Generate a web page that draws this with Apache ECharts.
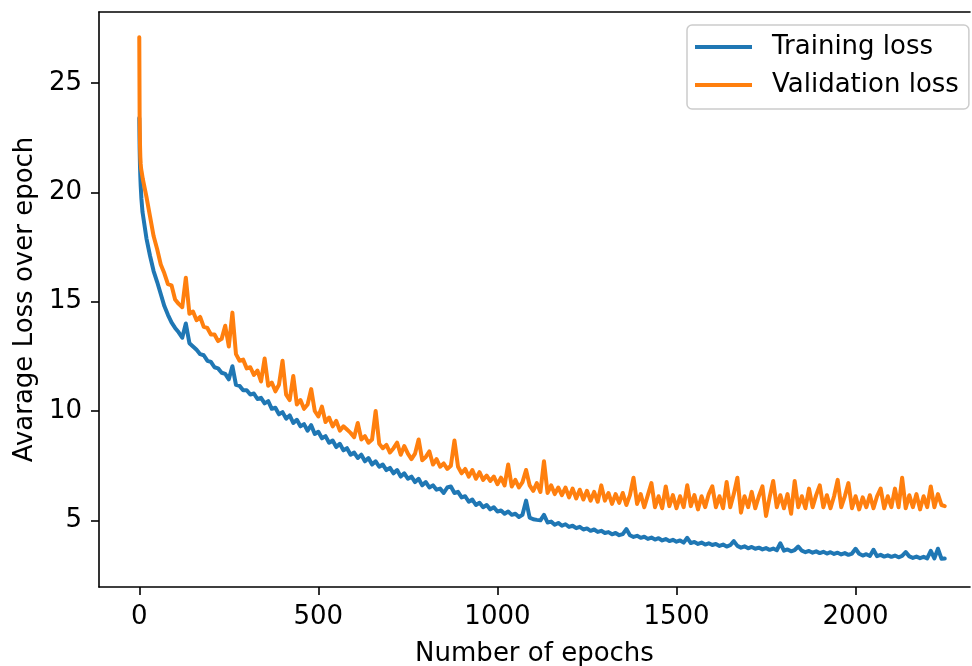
<!DOCTYPE html>
<html>
<head>
<meta charset="utf-8">
<script src="https://cdn.jsdelivr.net/npm/echarts@6/dist/echarts.min.js"></script>
<style>
html,body{margin:0;padding:0;background:#fff;}
#chart{width:972px;height:666px;}
</style>
</head>
<body>
<div id="chart"></div>
<script>
// Epoch numbers (x values)
const epochs = [
  0,1,2,3,4,5,6,7,8,9,
  10,20,30,40,50,60,70,80,90,100,
  110,120,130,140,150,160,170,180,190,200,
  210,220,230,240,250,260,270,280,290,300,
  310,320,330,340,350,360,370,380,390,400,
  410,420,430,440,450,460,470,480,490,500,
  510,520,530,540,550,560,570,580,590,600,
  610,620,630,640,650,660,670,680,690,700,
  710,720,730,740,750,760,770,780,790,800,
  810,820,830,840,850,860,870,880,890,900,
  910,920,930,940,950,960,970,980,990,1000,
  1010,1020,1030,1040,1050,1060,1070,1080,1090,1100,
  1110,1120,1130,1140,1150,1160,1170,1180,1190,1200,
  1210,1220,1230,1240,1250,1260,1270,1280,1290,1300,
  1310,1320,1330,1340,1350,1360,1370,1380,1390,1400,
  1410,1420,1430,1440,1450,1460,1470,1480,1490,1500,
  1510,1520,1530,1540,1550,1560,1570,1580,1590,1600,
  1610,1620,1630,1640,1650,1660,1670,1680,1690,1700,
  1710,1720,1730,1740,1750,1760,1770,1780,1790,1800,
  1810,1820,1830,1840,1850,1860,1870,1880,1890,1900,
  1910,1920,1930,1940,1950,1960,1970,1980,1990,2000,
  2010,2020,2030,2040,2050,2060,2070,2080,2090,2100,
  2110,2120,2130,2140,2150,2160,2170,2180,2190,2200,
  2210,2220,2230,2240,2249
];

// Training loss (blue)
const trainingLoss = [
  23.4,22.0,21.2,20.7,20.3,20.0,19.7,19.5,19.3,19.1,
  19.0,17.9,17.1,16.4,15.9,15.35,14.8,14.4,14.05,13.8,
  13.6,13.35,14.0,13.1,12.95,12.8,12.6,12.55,12.3,12.25,
  12.0,11.95,11.75,11.7,11.45,12.05,11.2,11.15,10.95,10.95,
  10.75,10.8,10.55,10.6,10.35,10.45,10.1,10.15,9.85,9.95,
  9.65,9.8,9.45,9.6,9.3,9.4,9.1,9.35,8.95,9.05,
  8.75,8.85,8.55,8.65,8.35,8.5,8.2,8.3,8.0,8.1,
  7.85,8.0,7.7,7.85,7.55,7.7,7.45,7.55,7.3,7.4,
  7.15,7.3,7.0,7.15,6.9,7.0,6.75,6.9,6.6,6.75,
  6.5,6.6,6.4,6.45,6.25,6.5,6.55,6.25,6.3,6.05,
  6.1,5.85,5.95,5.7,5.8,5.6,5.7,5.5,5.6,5.4,
  5.45,5.3,5.4,5.25,5.3,5.15,5.25,5.9,5.12,5.05,
  5.02,5.0,5.25,4.9,4.94,4.8,4.88,4.75,4.82,4.7,
  4.75,4.64,4.7,4.58,4.63,4.52,4.58,4.47,4.52,4.42,
  4.46,4.36,4.42,4.32,4.37,4.6,4.32,4.24,4.29,4.2,
  4.25,4.15,4.21,4.12,4.18,4.08,4.14,4.05,4.11,4.02,
  4.08,3.98,4.2,3.96,4.01,3.92,3.98,3.89,3.95,3.87,
  3.92,3.83,3.89,3.8,3.86,4.05,3.83,3.75,3.81,3.72,
  3.78,3.7,3.75,3.67,3.73,3.65,3.71,3.63,3.95,3.61,
  3.67,3.58,3.64,3.8,3.61,3.54,3.6,3.52,3.58,3.5,
  3.56,3.48,3.54,3.46,3.52,3.44,3.5,3.42,3.48,3.7,
  3.47,3.39,3.45,3.37,3.65,3.36,3.42,3.34,3.4,3.33,
  3.39,3.31,3.37,3.55,3.35,3.28,3.34,3.27,3.33,3.26,
  3.6,3.26,3.7,3.24,3.25
];

// Validation loss (orange)
const validationLoss = [
  27.1,23.5,22.2,21.6,21.3,21.1,21.0,20.9,20.8,20.7,
  20.6,19.8,18.9,18.0,17.4,16.7,16.3,15.8,15.75,15.1,
  14.9,14.75,16.1,14.45,14.55,14.15,14.3,13.85,13.8,13.5,
  13.5,13.2,13.3,13.9,12.95,14.5,12.6,12.3,12.35,11.95,
  12.0,11.65,11.85,11.35,12.4,11.15,11.3,10.9,11.2,12.3,
  10.75,10.5,11.6,10.3,10.5,10.1,10.3,11.0,10.0,9.75,
  10.2,9.5,9.7,9.3,9.55,9.1,9.3,9.15,9.0,8.8,
  9.45,8.7,8.85,8.55,8.7,10.0,8.5,8.3,8.45,8.1,
  8.3,8.55,8.0,8.4,8.05,7.8,8.05,8.7,7.75,7.9,
  8.15,7.55,7.8,7.45,7.6,7.35,7.5,8.65,7.45,7.15,
  7.35,7.0,7.3,6.9,7.2,6.85,7.05,6.8,7.0,6.65,
  6.95,6.6,7.55,6.55,6.85,6.5,6.75,7.3,6.6,6.35,
  6.7,6.3,7.7,6.25,6.6,6.2,6.5,6.15,6.5,6.05,
  6.45,6.0,6.4,5.95,6.35,5.9,6.3,5.85,6.6,5.9,
  6.25,5.75,6.2,5.8,6.25,5.7,6.15,6.95,5.75,6.2,
  5.6,6.15,6.7,5.6,6.1,5.55,6.55,5.65,6.15,5.55,
  6.1,5.6,6.6,5.65,6.15,5.5,6.1,5.6,6.2,6.55,
  5.6,6.1,5.55,6.75,5.6,6.2,6.95,5.35,6.1,5.6,
  6.3,5.55,6.1,6.55,5.2,6.05,6.8,5.6,6.15,5.55,
  6.2,5.3,6.8,5.6,6.1,5.55,6.45,5.6,6.15,6.6,
  5.6,6.15,5.55,6.1,6.85,5.6,6.1,6.7,5.55,6.1,
  5.5,6.05,5.6,6.15,5.55,6.1,6.45,5.55,6.1,5.6,
  6.45,5.6,6.95,5.55,6.15,5.6,6.2,5.5,6.1,5.6,
  6.55,5.6,6.2,5.7,5.65
];

const xTicks = [0, 500, 1000, 1500, 2000];
const yTicks = [5, 10, 15, 20, 25];

const FONT = 'DejaVu Sans';
const toPairs = (xs, ys) => xs.map((x, i) => [x, ys[i]]);
const X_MIN = -112.45, X_MAX = 2319.5;
const Y_MIN = 1.95, Y_MAX = 28.25;
const spine = {show: true, onZero: false, lineStyle: {color: '#000', width: 1.6}};

const chart = echarts.init(document.getElementById('chart'), null, {renderer: 'canvas'});
chart.setOption({
  animation: false,
  backgroundColor: '#ffffff',
  grid: {left: 99, top: 12, right: 2, height: 575, containLabel: false, outerBoundsMode: 'none'},
  legend: {
    orient: 'vertical',
    left: 687, top: 25,
    itemWidth: 57, itemHeight: 4, itemGap: 8,
    icon: 'rect',
    padding: [7, 10, 9, 8],
    backgroundColor: 'rgba(255,255,255,0.8)',
    borderColor: '#cccccc', borderWidth: 1.5, borderRadius: 5,
    textStyle: {fontFamily: FONT, fontSize: 26, color: '#000', lineHeight: 30, padding: [0, 0, 0, 15]},
    data: ['Training loss', 'Validation loss']
  },
  xAxis: [{
    type: 'value',
    min: X_MIN, max: X_MAX,
    name: 'Number of epochs',
    nameLocation: 'middle', nameGap: 54,
    nameTextStyle: {fontFamily: FONT, fontSize: 26, color: '#000'},
    axisLine: spine,
    axisTick: {show: true, length: 8, lineStyle: {color: '#000', width: 1.6}, customValues: xTicks},
    axisLabel: {fontFamily: FONT, fontSize: 26, color: '#000', margin: 17, customValues: xTicks,
                formatter: v => String(v)},
    splitLine: {show: false}
  }, {
    type: 'value', position: 'top',
    min: X_MIN, max: X_MAX,
    axisLine: spine, axisTick: {show: false}, axisLabel: {show: false}, splitLine: {show: false}
  }],
  yAxis: {
    type: 'value',
    min: Y_MIN, max: Y_MAX,
    name: 'Avarage Loss over epoch',
    nameLocation: 'middle', nameGap: 59,
    nameTextStyle: {fontFamily: FONT, fontSize: 26, color: '#000'},
    axisLine: spine,
    axisTick: {show: true, length: 8, lineStyle: {color: '#000', width: 1.6}, customValues: yTicks},
    axisLabel: {fontFamily: FONT, fontSize: 26, color: '#000', margin: 17, customValues: yTicks,
                formatter: v => String(v)},
    splitLine: {show: false}
  },
  series: [
    {
      name: 'Training loss', type: 'line', data: toPairs(epochs, trainingLoss),
      showSymbol: false, symbol: 'none', color: '#1f77b4',
      lineStyle: {width: 4, color: '#1f77b4', join: 'round', cap: 'round'}
    },
    {
      name: 'Validation loss', type: 'line', data: toPairs(epochs, validationLoss),
      showSymbol: false, symbol: 'none', color: '#ff7f0e',
      lineStyle: {width: 4, color: '#ff7f0e', join: 'round', cap: 'round'}
    }
  ]
});
</script>
</body>
</html>
